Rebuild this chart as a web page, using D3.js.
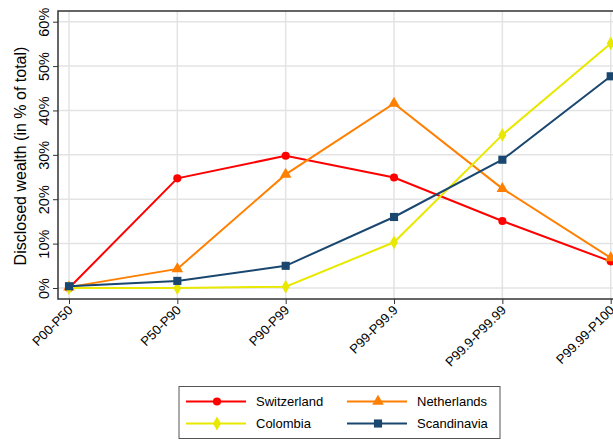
<!DOCTYPE html>
<html><head><meta charset="utf-8">
<script src="https://cdn.jsdelivr.net/npm/d3@7/dist/d3.min.js"></script>
<style>body{margin:0;background:#fff}svg{display:block;font-family:"Liberation Sans",Arial,sans-serif}</style>
</head><body>
<script>
const categories = ["P00-P50","P50-P90","P90-P99","P99-P99.9","P99.9-P99.99","P99.99-P100"];
const switzerland = [0.0, 24.7, 29.8, 24.9, 15.1, 6.0];
const netherlands = [0.2, 4.3, 25.6, 41.6, 22.4, 6.8];
const colombia    = [0.0, 0.0, 0.3, 10.3, 34.5, 55.1];
const scandinavia = [0.4, 1.6, 5.0, 16.0, 28.9, 47.7];
const yTicks = [0,10,20,30,40,50,60];
const seriesNames = ["Switzerland","Netherlands","Colombia","Scandinavia"];

const W=613,H=440;
const svg=d3.select("body").append("svg").attr("width",W).attr("height",H);
const L=58,T=11,B=299,R=640;
const x=d3.scalePoint().domain(categories).range([69,610.7]);
const y=d3.scaleLinear().domain([0,60]).range([288,21.7]);

const series=[
 {name:seriesNames[0],vals:switzerland,color:"#ff0000",sym:d3.symbolCircle,size:52},
 {name:seriesNames[1],vals:netherlands,color:"#ff7f00",sym:d3.symbolTriangle,size:58},
 {name:seriesNames[2],vals:colombia,color:"#e8e800",sym:d3.symbolDiamond,size:55},
 {name:seriesNames[3],vals:scandinavia,color:"#1a476f",sym:d3.symbolSquare,size:66}
];

// grid
const g=svg.append("g");
g.selectAll(".hg").data(yTicks).join("line").attr("x1",L).attr("x2",R).attr("y1",d=>y(d)).attr("y2",d=>y(d)).attr("stroke","#e3e3e3").attr("stroke-width",1.5);
g.selectAll(".vg").data(categories).join("line").attr("y1",T).attr("y2",B).attr("x1",d=>x(d)).attr("x2",d=>x(d)).attr("stroke","#e3e3e3").attr("stroke-width",1.5);
// frame
svg.append("rect").attr("x",L).attr("y",T).attr("width",R-L).attr("height",B-T).attr("fill","none").attr("stroke","#333").attr("stroke-width",1.5);

// axes
const ya=svg.append("g").attr("transform",`translate(${L},0)`).call(d3.axisLeft(y).tickValues(yTicks).tickSize(5).tickFormat(d=>d+"%"));
ya.select(".domain").remove();
ya.selectAll("line").attr("stroke","#333");
ya.selectAll("text").attr("font-size",14.5).attr("fill","#000").attr("text-anchor","middle").attr("dy",0).attr("x",0).attr("y",0)
  .attr("transform",d=>`translate(-14,0) rotate(-90)`).attr("dy","0.35em");
const xa=svg.append("g").attr("transform",`translate(0,${B})`).call(d3.axisBottom(x).tickSize(5));
xa.select(".domain").remove();
xa.selectAll("line").attr("stroke","#333");
xa.selectAll("text").attr("font-size",13).attr("fill","#000").attr("text-anchor","end").attr("x",0).attr("y",0).attr("dy",0)
  .attr("transform","translate(4,12) rotate(-45)");

svg.append("text").attr("transform","translate(26,156) rotate(-90)").attr("text-anchor","middle").attr("font-size",16).text("Disclosed wealth (in % of total)");

// lines
const line=d3.line().x((d,i)=>x(categories[i])).y(d=>y(d));
const pg=svg.append("g");
series.forEach(s=>{
  pg.append("path").attr("d",line(s.vals)).attr("fill","none").attr("stroke",s.color).attr("stroke-width",2);
});
series.forEach(s=>{
  pg.selectAll(null).data(s.vals).join("path").attr("d",d3.symbol().type(s.sym).size(s.size))
    .attr("transform",(d,i)=>`translate(${x(categories[i])},${y(d)})`).attr("fill",s.color);
});

// legend
const lg=svg.append("g");
lg.append("rect").attr("x",179).attr("y",386.5).attr("width",321).attr("height",52).attr("fill","#fff").attr("stroke","#555").attr("stroke-width",1);
const pos=[[186,401.5],[347,401.5],[186,423.5],[347,423.5]];
series.forEach((s,i)=>{
  const [lx,ly]=pos[i];
  lg.append("line").attr("x1",lx).attr("x2",lx+60).attr("y1",ly).attr("y2",ly).attr("stroke",s.color).attr("stroke-width",2);
  lg.append("path").attr("d",d3.symbol().type(s.sym).size(s.size)).attr("transform",`translate(${lx+31},${ly})`).attr("fill",s.color);
  lg.append("text").attr("x",lx+70).attr("y",ly).attr("dy","0.35em").attr("font-size",13).text(s.name);
});
</script>
</body></html>
